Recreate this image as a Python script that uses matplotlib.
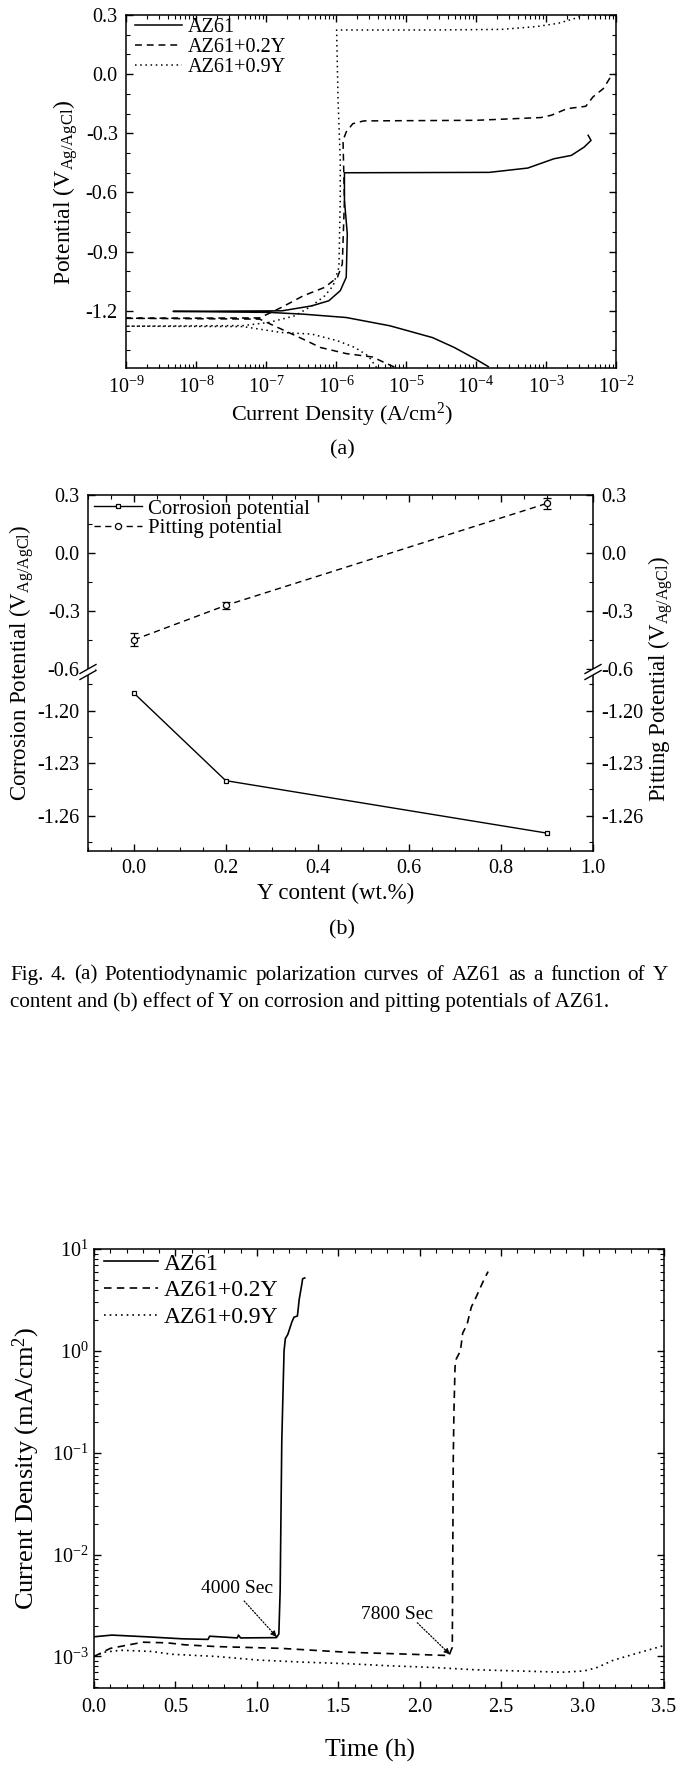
import matplotlib
matplotlib.use("Agg")
import matplotlib.pyplot as plt
from matplotlib.lines import Line2D
from matplotlib.patches import Polygon
from matplotlib.ticker import (MultipleLocator, FormatStrFormatter, LogLocator,
                               NullFormatter, FixedLocator)

plt.rcParams['font.family'] = ['Liberation Serif', 'DejaVu Serif']
plt.rcParams['mathtext.fontset'] = 'custom'
plt.rcParams['mathtext.rm'] = 'Liberation Serif'
plt.rcParams['mathtext.it'] = 'Liberation Serif:italic'
plt.rcParams['mathtext.bf'] = 'Liberation Serif:bold'
plt.rcParams['axes.unicode_minus'] = False
plt.rcParams['axes.linewidth'] = 1.1

# ---------------- panel (a): polarization curves ----------------
a_az61_i = [1.5e-4, 1.0e-4, 4.9e-5, 2.4e-5, 5.9e-6, 1.4e-6, 3.4e-7, 1.1e-7, 4.7e-9, 1.7e-7,
            4.5e-7, 7.9e-7, 1.15e-6, 1.4e-6, 1.45e-6, 1.32e-6, 1.32e-6, 1.55e-4, 5.5e-4,
            1.3e-3, 2.3e-3, 3.5e-3, 4.4e-3, 4.0e-3]
a_az61_E = [-1.483, -1.446, -1.386, -1.336, -1.276, -1.234, -1.217, -1.208, -1.203, -1.200,
            -1.175, -1.149, -1.098, -1.03, -0.81, -0.64, -0.50, -0.498, -0.476,
            -0.429, -0.412, -0.37, -0.336, -0.31]
a_y02_i = [6.8e-6, 3.3e-6, 1.4e-6, 6.0e-7, 3.4e-7, 1.66e-7, 8.1e-8, 9e-10, 8.1e-8, 1.66e-7,
           3.4e-7, 6.9e-7, 1.05e-6, 1.23e-6, 1.32e-6, 1.26e-6, 1.4e-6, 1.74e-6, 2.5e-6,
           1.0e-4, 8.5e-4, 1.2e-3, 2.0e-3, 3.7e-3, 4.7e-3, 6.6e-3, 8.1e-3, 9.5e-3]
a_y02_E = [-1.485, -1.434, -1.417, -1.386, -1.344, -1.293, -1.242, -1.238, -1.236, -1.183,
           -1.124, -1.081, -1.03, -0.963, -0.64, -0.336, -0.293, -0.251, -0.237,
           -0.234, -0.22, -0.208, -0.175, -0.163, -0.115, -0.073, -0.022, 0.0]
a_y09_i = [3.8e-6, 2.9e-6, 1.86e-6, 1.05e-6, 4.5e-7, 1.66e-7, 4.7e-8, 9e-10, 4.7e-8, 1.1e-7,
           2.6e-7, 4.5e-7, 6.9e-7, 9.1e-7, 1.1e-6, 1.15e-6, 1.15e-6, 1.07e-6, 1.02e-6,
           2.4e-5, 2.3e-4, 7.2e-4, 1.5e-3, 2.6e-3, 3.5e-3, 1.0e-2]
a_y09_E = [-1.488, -1.429, -1.386, -1.352, -1.318, -1.31, -1.28, -1.278, -1.275, -1.259,
           -1.225, -1.175, -1.124, -1.073, -0.98, -0.64, -0.437, -0.132, 0.224,
           0.224, 0.227, 0.241, 0.258, 0.283, 0.30, 0.30]
series_labels = ['AZ61', 'AZ61+0.2Y', 'AZ61+0.9Y']

# ---------------- panel (b): potentials vs Y content ----------------
y_content = [0.0, 0.2, 0.9]
corrosion_pot = [-1.190, -1.240, -1.270]
pitting_pot = [-0.449, -0.271, 0.257]
pitting_err = [0.033, 0.019, 0.030]

# ---------------- panel (c): current density vs time ----------------
c_az61_t = [0.0, 0.11, 0.32, 0.54, 0.70, 0.71, 0.88, 0.887, 0.90, 1.12, 1.135, 1.143, 1.148,
            1.153, 1.161, 1.167, 1.175, 1.19, 1.215, 1.228, 1.249, 1.26, 1.276, 1.281, 1.294]
c_az61_j = [1.56e-3, 1.62e-3, 1.56e-3, 1.49e-3, 1.47e-3, 1.58e-3, 1.52e-3, 1.62e-3, 1.52e-3,
            1.53e-3, 1.66e-3, 4.4e-3, 2.4e-2, 0.128, 0.42, 1.0, 1.32, 1.45, 1.92, 2.14, 2.2,
            3.2, 4.5, 5.1, 5.2]
c_y02_t = [0.0, 0.1, 0.3, 0.45, 0.56, 0.75, 1.15, 1.55, 1.95, 2.18, 2.20, 2.203, 2.206, 2.21,
           2.217, 2.224, 2.25, 2.264, 2.29, 2.317, 2.34, 2.37, 2.397, 2.42]
c_y02_j = [1.0e-3, 1.2e-3, 1.38e-3, 1.36e-3, 1.3e-3, 1.25e-3, 1.2e-3, 1.1e-3, 1.05e-3, 1.02e-3,
           1.23e-3, 1.02e-2, 8.5e-2, 0.25, 0.7, 0.83, 1.0, 1.5, 1.8, 2.7, 3.2, 4.1, 5.1, 6.0]
c_y09_t = [0.0, 0.06, 0.165, 0.35, 0.48, 0.75, 1.015, 1.28, 1.55, 1.81, 2.08, 2.34, 2.61,
           2.875, 3.01, 3.09, 3.19, 3.33, 3.5]
c_y09_j = [1.0e-3, 1.1e-3, 1.15e-3, 1.12e-3, 1.05e-3, 1.0e-3, 0.92e-3, 0.88e-3, 0.85e-3,
           0.81e-3, 0.78e-3, 0.74e-3, 0.72e-3, 0.70e-3, 0.72e-3, 0.78e-3, 0.92e-3, 1.07e-3,
           1.28e-3]
ann_labels = ['4000 Sec', '7800 Sec']
ann_tip = [(1.121, 1.56e-3), (2.185, 1.05e-3)]
ann_tail = [(0.922, 3.5e-3), (1.985, 2.14e-3)]
ann_text = [(0.877, 4.6e-3), (1.86, 2.6e-3)]

caption1 = "Fig. 4. (a) Potentiodynamic polarization curves of AZ61 as a function of Y"
caption2 = "content and (b) effect of Y on corrosion and pitting potentials of AZ61."

W, H = 678, 1766
fig = plt.figure(figsize=(W / 100, H / 100), dpi=100)


def fx(px):
    return px / W


def fy(py):
    return 1 - py / H


def rect(l, t, r, b):
    return [fx(l), fy(b), (r - l) / W, (b - t) / H]


DASH = (0, (4.5, 3.2))
DOT = (0, (1, 2.4))
TICK = 14.5

# ====================== panel (a) ======================
axa = fig.add_axes(rect(126, 15, 616, 368))
axa.plot(a_az61_i, a_az61_E, color='k', lw=1.1, ls='-', label=series_labels[0])
axa.plot(a_y02_i, a_y02_E, color='k', lw=1.1, ls=DASH, label=series_labels[1])
axa.plot(a_y09_i, a_y09_E, color='k', lw=1.1, ls=DOT, label=series_labels[2])
axa.set_xscale('log')
axa.set_xlim(1e-9, 1e-2)
axa.set_ylim(-1.49, 0.3)
axa.xaxis.set_major_locator(LogLocator(base=10, numticks=20))
axa.xaxis.set_minor_locator(LogLocator(base=10, subs=range(2, 10), numticks=20))
axa.xaxis.set_minor_formatter(NullFormatter())
axa.yaxis.set_major_locator(MultipleLocator(0.3))
axa.yaxis.set_minor_locator(MultipleLocator(0.1))
axa.yaxis.set_major_formatter(FormatStrFormatter('%.1f'))
axa.tick_params(which='both', direction='in', top=True, right=True, labelsize=TICK, pad=6)
axa.tick_params(which='major', length=5, width=1.0)
axa.tick_params(which='minor', length=2.8, width=0.8)
axa.legend(loc='upper left', bbox_to_anchor=(fx(135), fy(18)), bbox_transform=fig.transFigure,
           frameon=False, fontsize=14.5, handlelength=2.35, handletextpad=0.25,
           labelspacing=0.05, borderpad=0, borderaxespad=0)
fig.text(fx(66), fy(192), r'Potential (V$_{\rm Ag/AgCl}$)', rotation=90,
         fontsize=17, ha='center', va='center')
fig.text(fx(342), fy(415), r'Current Density (A/cm$^{2}$)', fontsize=16,
         ha='center', va='center')
fig.text(fx(342), fy(450), '(a)', fontsize=16, ha='center', va='center')

# ====================== panel (b) ======================
axu = fig.add_axes(rect(88, 495, 593, 670))
axl = fig.add_axes(rect(88, 670, 593, 851))
for ax in (axu, axl):
    ax.set_xlim(-0.1, 1.0)
    ax.xaxis.set_major_locator(MultipleLocator(0.2))
    ax.xaxis.set_minor_locator(MultipleLocator(0.05))
    ax.xaxis.set_major_formatter(FormatStrFormatter('%.1f'))
    ax.tick_params(which='both', direction='in', right=True, labelright=True,
                   labelsize=TICK, pad=6)
    ax.tick_params(which='major', length=5, width=1.0)
    ax.tick_params(which='minor', length=2.8, width=0.8)
axu.set_ylim(-0.605, 0.3)
axu.yaxis.set_major_locator(MultipleLocator(0.3))
axu.yaxis.set_minor_locator(MultipleLocator(0.15))
axu.yaxis.set_major_formatter(FormatStrFormatter('%.1f'))
axu.spines['bottom'].set_visible(False)
axu.tick_params(which='both', bottom=False, labelbottom=False, top=True)
axl.set_ylim(-1.2802, -1.1768)
axl.yaxis.set_major_locator(FixedLocator([-1.26, -1.23, -1.20]))
axl.yaxis.set_minor_locator(FixedLocator([-1.275, -1.245, -1.215, -1.185]))
axl.yaxis.set_major_formatter(FormatStrFormatter('%.2f'))
axl.spines['top'].set_visible(False)
axl.tick_params(which='both', top=False)

axl.plot(y_content, corrosion_pot, color='k', lw=1.0, marker='s', ms=3.4,
         mfc='white', mec='k', mew=0.9)
axu.errorbar(y_content, pitting_pot, yerr=pitting_err, color='k', lw=1.0, ls=DASH,
             marker='o', ms=4.4, mfc='white', mec='k', mew=0.9, capsize=3,
             elinewidth=0.9, capthick=0.9)
hb = [Line2D([], [], color='k', lw=1.0, marker='s', ms=3.4, mfc='white', mew=0.9),
      Line2D([], [], color='k', lw=1.0, ls=DASH, marker='o', ms=4.4, mfc='white', mew=0.9)]
axu.legend(hb, ['Corrosion potential', 'Pitting potential'], loc='upper left',
           bbox_to_anchor=(fx(94), fy(499)), bbox_transform=fig.transFigure,
           frameon=False, fontsize=15, handlelength=2.3, handletextpad=0.3,
           labelspacing=0.0, borderpad=0, borderaxespad=0, numpoints=1)

# axis break marks
for x0 in (88, 593):
    pts = [(x0 - 7, 673), (x0 + 7, 665), (x0 + 7, 671), (x0 - 7, 679)]
    fig.add_artist(Polygon([(fx(p), fy(q)) for p, q in pts], closed=True,
                           transform=fig.transFigure, fc='white', ec='none', zorder=10))
    for dy in (0, 6):
        fig.add_artist(Line2D([fx(x0 - 8), fx(x0 + 8)], [fy(673.5 + dy), fy(664.5 + dy)],
                              transform=fig.transFigure, color='k', lw=1.0, zorder=11))

fig.text(fx(22), fy(663), r'Corrosion Potential (V$_{\rm Ag/AgCl}$)', rotation=90,
         fontsize=16.5, ha='center', va='center')
fig.text(fx(661), fy(679), r'Pitting Potential (V$_{\rm Ag/AgCl}$)', rotation=90,
         fontsize=16.5, ha='center', va='center')
fig.text(fx(336), fy(893), 'Y content (wt.%)', fontsize=16.5, ha='center', va='center')
fig.text(fx(342), fy(930), '(b)', fontsize=16, ha='center', va='center')

# caption (first line justified)
renderer = fig.canvas.get_renderer()
CAP = 15.2
words = caption1.split()
objs = [fig.text(0, fy(975), w, fontsize=CAP, ha='left', va='center') for w in words]
widths = [o.get_window_extent(renderer).width for o in objs]
gap = (668 - 10 - sum(widths)) / (len(words) - 1)
xpos = 10
for o, wd in zip(objs, widths):
    o.set_x(fx(xpos))
    xpos += wd + gap
fig.text(fx(10), fy(1002), caption2, fontsize=CAP, ha='left', va='center')

# ====================== panel (c) ======================
axc = fig.add_axes(rect(94, 1249, 664, 1688))
axc.plot(c_az61_t, c_az61_j, color='k', lw=1.2, ls='-', label=series_labels[0])
axc.plot(c_y02_t, c_y02_j, color='k', lw=1.2, ls=DASH, label=series_labels[1])
axc.plot(c_y09_t, c_y09_j, color='k', lw=1.2, ls=DOT, label=series_labels[2])
axc.set_yscale('log')
axc.set_xlim(0, 3.5)
axc.set_ylim(4.9e-4, 10)
axc.xaxis.set_major_locator(MultipleLocator(0.5))
axc.xaxis.set_minor_locator(MultipleLocator(0.1))
axc.xaxis.set_major_formatter(FormatStrFormatter('%.1f'))
axc.yaxis.set_major_locator(LogLocator(base=10, numticks=20))
axc.yaxis.set_minor_locator(LogLocator(base=10, subs=range(2, 10), numticks=20))
axc.yaxis.set_minor_formatter(NullFormatter())
axc.tick_params(which='both', direction='in', top=True, right=True, labelsize=TICK)
axc.tick_params(axis='x', pad=7)
axc.tick_params(axis='y', pad=4)
axc.tick_params(which='major', length=5, width=1.0)
axc.tick_params(which='minor', length=2.8, width=0.8)
axc.legend(loc='upper left', bbox_to_anchor=(fx(104), fy(1253)), bbox_transform=fig.transFigure,
           frameon=False, fontsize=17, handlelength=2.3, handletextpad=0.25,
           labelspacing=0.22, borderpad=0, borderaxespad=0)
for lab, tip, tail, tp in zip(ann_labels, ann_tip, ann_tail, ann_text):
    axc.annotate('', xy=tip, xytext=tail,
                 arrowprops=dict(arrowstyle='-', ls=(0, (1, 1.5)), lw=0.9, color='k',
                                 shrinkA=0, shrinkB=0))
    axc.annotate('', xy=tip, xytext=(tip[0] - (tip[0] - tail[0]) * 0.12,
                                     tip[1] * (tail[1] / tip[1]) ** 0.12),
                 arrowprops=dict(arrowstyle='-|>', lw=0.6, color='k', shrinkA=0, shrinkB=0,
                                 mutation_scale=9))
    axc.text(tp[0], tp[1], lab, fontsize=14, ha='center', va='center')

fig.text(fx(26), fy(1468), r'Current Density (mA/cm$^{2}$)', rotation=90,
         fontsize=19, ha='center', va='center')
fig.text(fx(370), fy(1750), 'Time (h)', fontsize=18.5, ha='center', va='center')

fig.savefig('out.png', dpi=100)
